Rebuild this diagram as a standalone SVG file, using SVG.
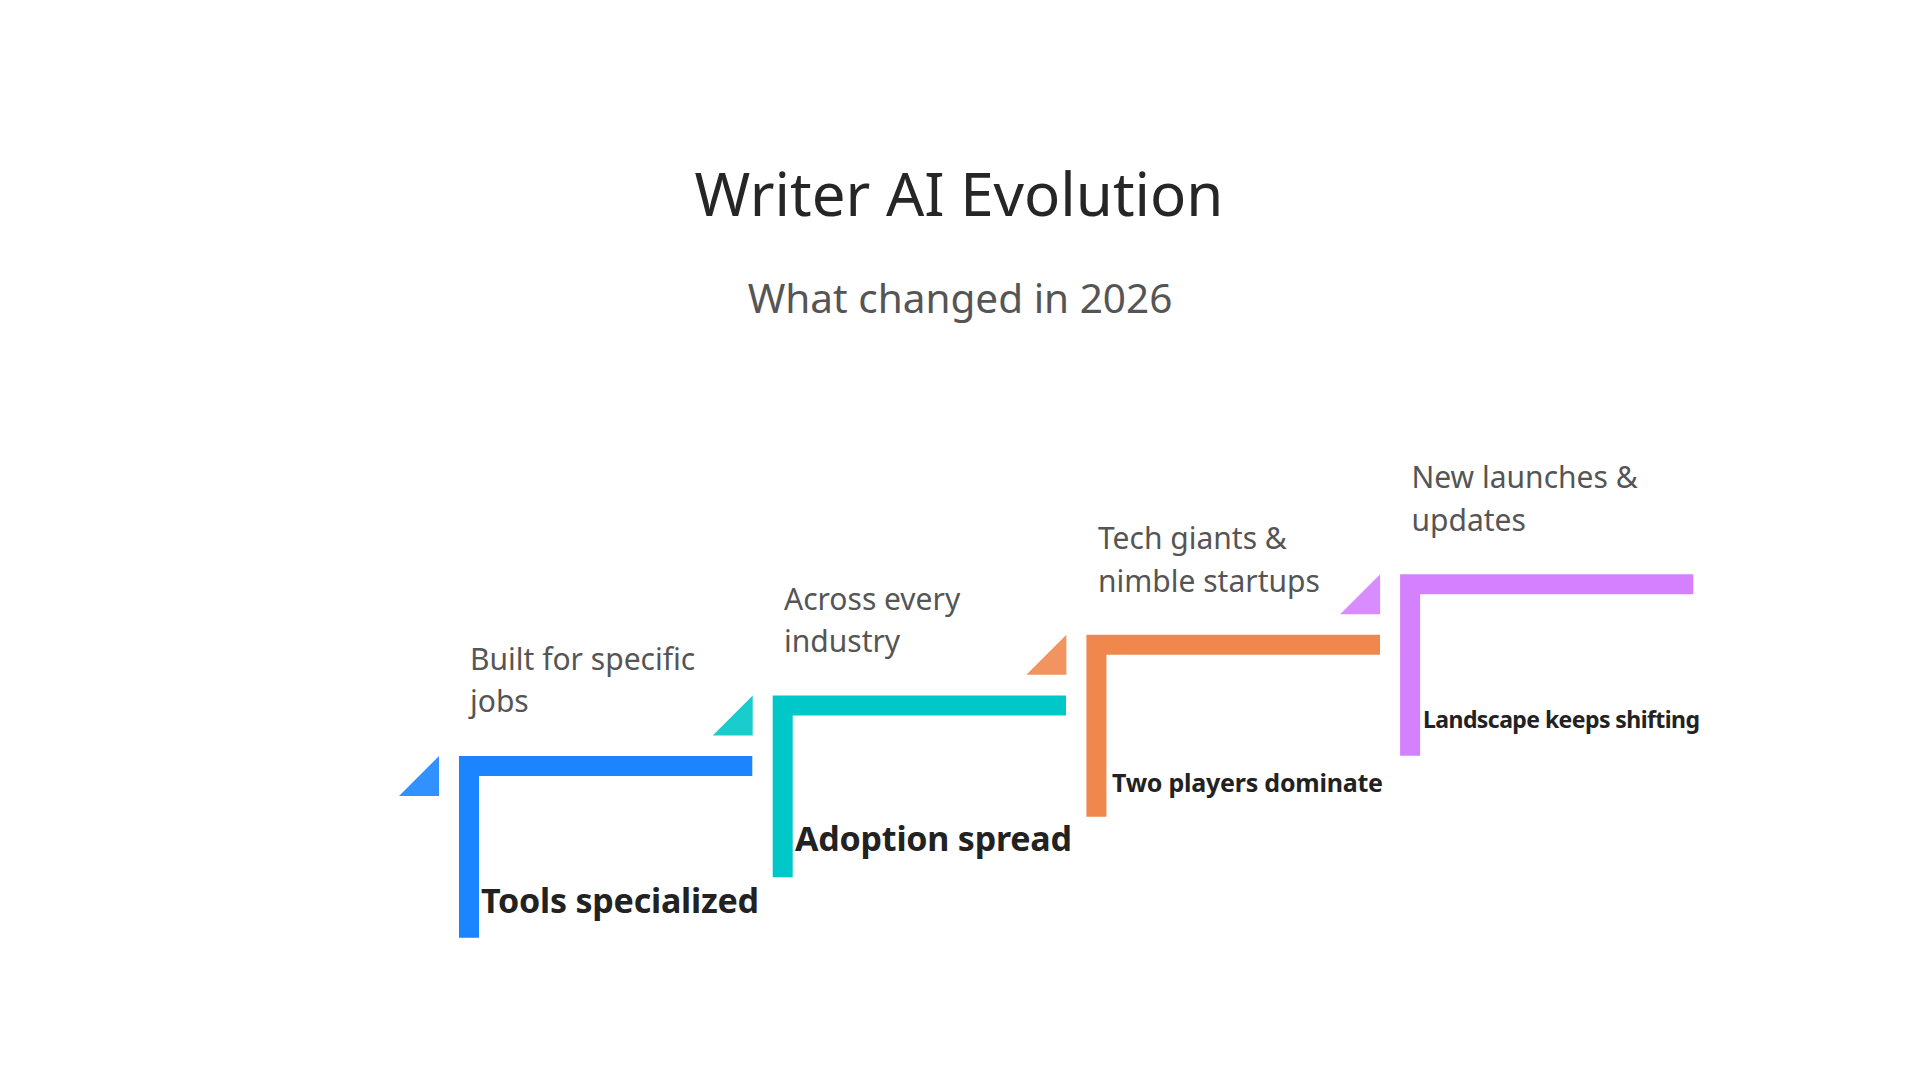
<svg xmlns="http://www.w3.org/2000/svg" width="1920" height="1080" viewBox="0 0 1920 1080">
<style>
text{font-family:"Noto Sans","Open Sans","DejaVu Sans",sans-serif}
.title{font-size:60px;fill:#262626;text-anchor:middle}
.sub{font-size:40.5px;fill:#555555;text-anchor:middle}
.desc{font-size:30px;fill:#555555}
.lab{font-weight:bold;fill:#222222}
.tri{opacity:0.9}
</style>
<rect width="1920" height="1080" fill="#ffffff"/>
<text class="title" x="959" y="216">Writer AI Evolution</text>
<text class="sub" x="960" y="313">What changed in 2026</text>
<g id="connectors"></g>
<g id="step1">
<polygon class="tri" points="439,756 439,796 399,796" fill="#1A85FF"/>
<path d="M459,756 H752.3 V776 H479 V937.7 H459 Z" fill="#1A85FF"/>
<text class="desc" x="470" y="670">Built for specific</text>
<text class="desc" x="470" y="712">jobs</text>
<text class="lab" x="481" y="912.5" font-size="34" textLength="278">Tools specialized</text>
</g>
<g id="step2">
<polygon class="tri" points="752.7,695.4 752.7,735.4 712.7,735.4" fill="#00C8C8"/>
<path d="M772.7,695.4 H1066 V715.4 H792.7 V877.3 H772.7 Z" fill="#00C8C8"/>
<text class="desc" x="784" y="609.5">Across every</text>
<text class="desc" x="784" y="651.8">industry</text>
<text class="lab" x="795" y="851" font-size="34" textLength="277">Adoption spread</text>
</g>
<g id="step3">
<polygon class="tri" points="1066.4,634.8 1066.4,674.8 1026.4,674.8" fill="#F0884E"/>
<path d="M1086.4,634.8 H1380 V654.8 H1106.4 V816.7 H1086.4 Z" fill="#F0884E"/>
<text class="desc" x="1098" y="548.5">Tech giants &amp;</text>
<text class="desc" x="1098" y="591.5">nimble startups</text>
<text class="lab" x="1112" y="792.3" font-size="25" textLength="271">Two players dominate</text>
</g>
<g id="step4">
<polygon class="tri" points="1380.1,574.2 1380.1,614.2 1340.1,614.2" fill="#D580FF"/>
<path d="M1400.1,574.2 H1693.3 V594.2 H1420.1 V755.7 H1400.1 Z" fill="#D580FF"/>
<text class="desc" x="1411.5" y="487.7">New launches &amp;</text>
<text class="desc" x="1411.5" y="530.7">updates</text>
<text class="lab" x="1423" y="728.3" font-size="23" textLength="277">Landscape keeps shifting</text>
</g>
</svg>
